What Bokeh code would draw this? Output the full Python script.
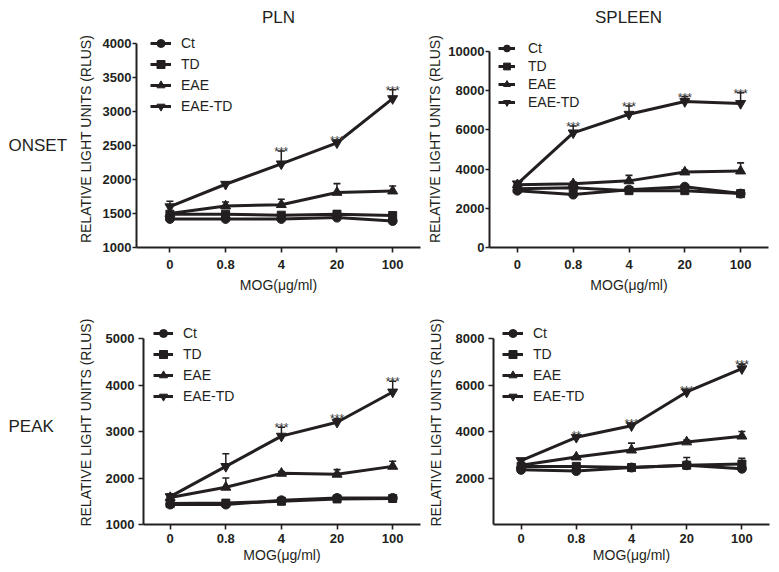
from bokeh.plotting import figure
from bokeh.layouts import row, column
from bokeh.models import Range1d, FixedTicker, Legend, LegendItem
from bokeh.core.properties import value
from bokeh.embed import file_html
from bokeh.resources import INLINE

FONT = "Liberation Sans"
INK = "#231f20"

doses = ["0", "0.8", "4", "20", "100"]
groups = ["Ct", "TD", "EAE", "EAE-TD"]
col_titles = ["PLN", "SPLEEN"]
row_titles = ["ONSET", "PEAK"]
x_label = "MOG(\u03bcg/ml)"
y_label = "RELATIVE LIGHT UNITS (RLUS)"

# PLN - ONSET
pln_onset_ct = [1420, 1420, 1420, 1440, 1390]
pln_onset_td = [1490, 1490, 1475, 1490, 1470]
pln_onset_eae = [1500, 1610, 1630, 1810, 1830]
pln_onset_eaetd = [1600, 1930, 2230, 2540, 3190]
pln_onset_ct_err = [20, 20, 20, 30, 20]
pln_onset_td_err = [20, 30, 30, 50, 30]
pln_onset_eae_err = [30, 60, 80, 130, 75]
pln_onset_eaetd_err = [80, 30, 190, 40, 130]
pln_onset_stars = ["", "", "***", "***", "***"]

# SPLEEN - ONSET
spl_onset_ct = [2900, 2700, 2950, 3100, 2750]
spl_onset_td = [3000, 3050, 2900, 2900, 2750]
spl_onset_eae = [3200, 3250, 3400, 3850, 3900]
spl_onset_eaetd = [3250, 5850, 6800, 7450, 7350]
spl_onset_ct_err = [100, 80, 100, 100, 80]
spl_onset_td_err = [100, 100, 100, 150, 100]
spl_onset_eae_err = [100, 100, 280, 100, 420]
spl_onset_eaetd_err = [100, 350, 420, 250, 550]
spl_onset_stars = ["", "***", "***", "***", "***"]

# PLN - PEAK
pln_peak_ct = [1430, 1430, 1520, 1570, 1570]
pln_peak_td = [1450, 1460, 1500, 1550, 1560]
pln_peak_eae = [1580, 1800, 2100, 2080, 2250]
pln_peak_eaetd = [1600, 2250, 2900, 3200, 3850]
pln_peak_ct_err = [30, 30, 30, 30, 50]
pln_peak_td_err = [30, 30, 30, 30, 30]
pln_peak_eae_err = [40, 200, 40, 100, 110]
pln_peak_eaetd_err = [60, 270, 190, 80, 230]
pln_peak_stars = ["", "", "***", "***", "***"]

# SPLEEN - PEAK
spl_peak_ct = [2350, 2300, 2450, 2550, 2400]
spl_peak_td = [2500, 2500, 2450, 2550, 2600]
spl_peak_eae = [2550, 2900, 3200, 3550, 3800]
spl_peak_eaetd = [2750, 3750, 4250, 5700, 6700]
spl_peak_ct_err = [80, 80, 60, 100, 100]
spl_peak_td_err = [100, 100, 60, 330, 250]
spl_peak_eae_err = [60, 60, 300, 80, 200]
spl_peak_eaetd_err = [80, 100, 100, 100, 200]
spl_peak_stars = ["", "**", "***", "***", "***"]

markers = ["circle", "square", "triangle", "inverted_triangle"]
marker_sizes = [9, 8, 10, 10]


def make_panel(series, errs, stars, y_start, y_end, yticks, x_start, width, height,
               bl, br, bt, bb, top_val_px, legend_loc, legend_glyph_w, legend_standoff,
               item_h, legend_spacing, ylab_standoff, ytick_standoff, ytick_out,
               xtick_standoff, xlabel_standoff):
    # frame pixel extents: frame bottom at height-bb, frame top at bt; value y_end at top_val_px
    fb = height - bb
    ft = bt
    y_top = y_start + (y_end - y_start) * (fb - ft) / (fb - top_val_px)
    p = figure(width=width, height=height, output_backend="svg", toolbar_location=None,
               x_range=Range1d(x_start, 4.5), y_range=Range1d(y_start, y_top),
               min_border_left=bl, min_border_right=br, min_border_top=bt, min_border_bottom=bb)
    p.outline_line_color = None
    p.grid.visible = False
    xs = list(range(len(doses)))
    items = []
    for k, (vals, err) in enumerate(zip(series, errs)):
        tops = [v + e for v, e in zip(vals, err)]
        p.segment(x0=xs, y0=vals, x1=xs, y1=tops, line_color=INK, line_width=1.5)
        p.scatter(x=xs, y=tops, marker="dash", size=7, line_color=INK, line_width=1.6)
        lr = p.line(x=xs, y=vals, line_color=INK, line_width=3)
        sr = p.scatter(x=xs, y=vals, marker=markers[k], size=marker_sizes[k],
                       fill_color=INK, line_color=INK)
        items.append(LegendItem(label=groups[k], renderers=[lr, sr]))
        if k == 3:
            sx = [x for x, s in zip(xs, stars) if s]
            sy = [t for t, s in zip(tops, stars) if s]
            st = [s for s in stars if s]
            p.text(x=sx, y=sy, text=st, text_font=value(FONT), text_font_size="12px",
                   text_align="center", text_baseline="alphabetic", y_offset=1,
                   text_color="#333333")
    leg = Legend(items=items, location=legend_loc, padding=0, margin=0,
                 border_line_color=None, background_fill_alpha=0,
                 glyph_width=legend_glyph_w, glyph_height=item_h, label_height=item_h,
                 label_standoff=legend_standoff, spacing=legend_spacing,
                 label_text_font=FONT, label_text_font_size="14px", label_text_color=INK)
    p.add_layout(leg)

    for ax in (p.xaxis[0], p.yaxis[0]):
        ax.axis_line_color = INK
        ax.axis_line_width = 2
        ax.major_tick_line_color = INK
        ax.major_tick_line_width = 1.6
        ax.major_tick_in = 0
        ax.minor_tick_line_color = None
        ax.major_label_text_font = FONT
        ax.major_label_text_font_size = "13px"
        ax.major_label_text_font_style = "bold"
        ax.major_label_text_color = INK
        ax.axis_label_text_font = FONT
        ax.axis_label_text_font_size = "14px"
        ax.axis_label_text_font_style = "normal"
        ax.axis_label_text_color = INK
    p.xaxis.major_tick_out = 5
    p.xaxis.ticker = FixedTicker(ticks=xs)
    p.xaxis.major_label_overrides = {i: d for i, d in enumerate(doses)}
    p.xaxis.axis_label = x_label
    p.xaxis.major_label_standoff = xtick_standoff
    p.xaxis.axis_label_standoff = xlabel_standoff
    p.yaxis.major_tick_out = ytick_out
    p.yaxis.ticker = FixedTicker(ticks=yticks)
    p.yaxis.bounds = (y_start, y_end)
    p.yaxis.axis_label = y_label
    p.yaxis.major_label_standoff = ytick_standoff
    p.yaxis.axis_label_standoff = ylab_standoff
    return p


def text_fig(txts, xs, w, h, bt, bb, page_top, yc_page, align):
    # frame spans page rows page_top+bt .. page_top+h-bb; y data is negated page y
    p = figure(width=w, height=h, output_backend="svg", toolbar_location=None,
               x_range=Range1d(0, w), y_range=Range1d(-(page_top + h - bb), -(page_top + bt)),
               min_border_left=0, min_border_right=0, min_border_top=bt, min_border_bottom=bb,
               x_axis_location=None, y_axis_location=None)
    p.grid.visible = False
    p.outline_line_color = None
    p.text(x=xs, y=[-yc_page] * len(txts), text=txts, text_font=value(FONT),
           text_font_size="17px", text_align=align, text_baseline="middle", text_color=INK)
    return p


# layout: header 0..30, top row 30..298, bottom row 298..570
header = text_fig(col_titles, [278, 628], 778, 30, 0, 0, 0, 17, "center")

f1 = make_panel([pln_onset_ct, pln_onset_td, pln_onset_eae, pln_onset_eaetd],
                [pln_onset_ct_err, pln_onset_td_err, pln_onset_eae_err, pln_onset_eaetd_err],
                pln_onset_stars, 1000, 4000, [1000, 1500, 2000, 2500, 3000, 3500, 4000], -0.6,
                352, 268, 64, 4, 0, 51, 43 - 30, (14, 131), 21, 10, 20, 1,
                6, 1, 4, 7, 5)
f2 = make_panel([spl_onset_ct, spl_onset_td, spl_onset_eae, spl_onset_eaetd],
                [spl_onset_ct_err, spl_onset_td_err, spl_onset_eae_err, spl_onset_eaetd_err],
                spl_onset_stars, 0, 10000, [0, 2000, 4000, 6000, 8000, 10000], -0.5,
                354, 268, 64, 10, 0, 51, 51 - 30, (9, 136), 17, 13, 18, 0,
                2, 1, 4, 7, 5)
f3 = make_panel([pln_peak_ct, pln_peak_td, pln_peak_eae, pln_peak_eaetd],
                [pln_peak_ct_err, pln_peak_td_err, pln_peak_eae_err, pln_peak_eaetd_err],
                pln_peak_stars, 1000, 5000, [1000, 2000, 3000, 4000, 5000], -0.48,
                352, 272, 71, 4, 22, 46, 338 - 298, (10, 118), 20, 10, 20, 1,
                9, 4, 5, 4, 1)
f4 = make_panel([spl_peak_ct, spl_peak_td, spl_peak_eae, spl_peak_eaetd],
                [spl_peak_ct_err, spl_peak_td_err, spl_peak_eae_err, spl_peak_eaetd_err],
                spl_peak_stars, 0, 8000, [2000, 4000, 6000, 8000], -0.5,
                354, 272, 65, 9, 22, 46, 338 - 298, (9, 118), 21, 10, 20, 1,
                9, 4, 5, 4, 1)

l1 = text_fig([row_titles[0]], [8], 72, 268, 0, 51, 30, 145, "left")
l2 = text_fig([row_titles[1]], [8], 72, 272, 22, 46, 298, 426, "left")

layout = column(header, row(l1, f1, f2), row(l2, f3, f4))
open("out.html", "w").write(file_html(layout, INLINE))
